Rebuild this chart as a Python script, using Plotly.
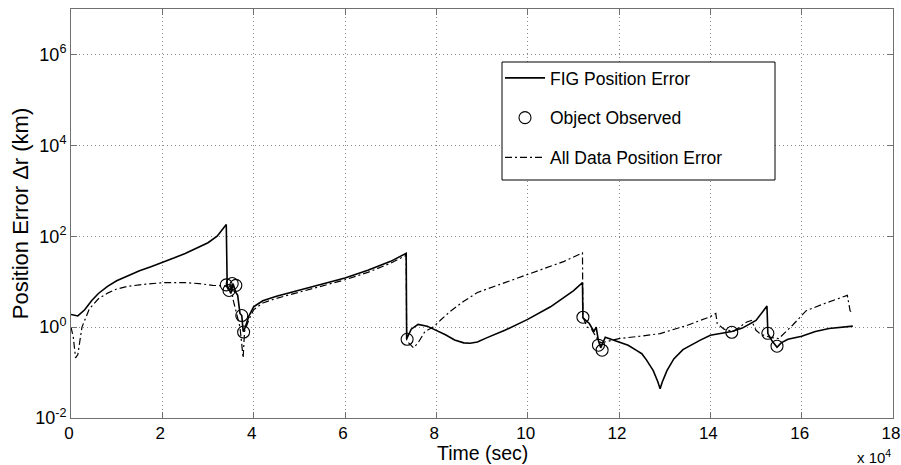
import plotly.graph_objects as go

# ---- data (time in 1e4 s, error in km) ----
fig_t = [0, 0.15, 0.3, 0.45, 0.6, 0.8, 1.0, 1.25, 1.5, 1.75, 2.0, 2.25, 2.5, 2.75, 3.0, 3.2, 3.4,
         3.42, 3.45, 3.5, 3.55, 3.6, 3.65, 3.7, 3.74, 3.77, 3.8, 3.85, 3.9, 4.0, 4.2, 4.5,
         5.0, 5.5, 6.0, 6.5, 7.0, 7.34, 7.35, 7.45, 7.6, 7.8, 8.0, 8.2, 8.4, 8.6, 8.74,
         8.9, 9.1, 9.5, 10.0, 10.5, 11.0, 11.2, 11.21, 11.35, 11.45, 11.5, 11.55, 11.6,
         11.7, 11.8, 11.95, 12.2, 12.4, 12.5, 12.6, 12.75, 12.85, 12.9, 12.95, 13.05,
         13.2, 13.4, 13.77, 14.0, 14.47, 14.7, 15.0, 15.24, 15.26, 15.35, 15.46, 15.55,
         15.7, 16.0, 16.3, 16.6, 17.12]
fig_v = [1.9, 1.76, 2.4, 3.8, 5.5, 7.9, 10.5, 13.8, 17.4, 21.4, 26.3, 33, 41.7, 53.7, 72, 100, 182,
         8.5, 7.4, 5.5, 9.0, 6.0, 5.0, 2.0, 1.8, 0.8, 0.9, 1.26, 1.8, 2.8, 3.8, 4.8,
         6.6, 8.9, 12, 17.8, 28, 42, 0.55, 0.9, 1.15, 1.05, 0.85, 0.68, 0.52, 0.45, 0.44,
         0.47, 0.58, 0.85, 1.48, 2.8, 6.3, 9.5, 1.6, 1.2, 0.8, 1.0, 0.5, 0.35,
         0.6, 0.55, 0.5, 0.4, 0.3, 0.26, 0.19, 0.11, 0.063, 0.044, 0.063, 0.11,
         0.2, 0.32, 0.51, 0.66, 0.8, 0.95, 1.4, 2.9, 0.72, 0.5, 0.36, 0.45,
         0.54, 0.63, 0.8, 0.93, 1.05]

all_t = [0, 0.05, 0.1, 0.15, 0.24, 0.4, 0.6, 0.8, 1.0, 1.25, 1.5, 2.0, 2.5, 2.8, 3.1, 3.4,
         3.45, 3.5, 3.55, 3.6, 3.7, 3.77, 3.8, 3.85, 3.9, 4.0, 4.2, 4.5, 5.0, 5.5, 6.0,
         6.5, 7.0, 7.34, 7.35, 7.5, 7.6, 7.75, 7.93, 8.1, 8.3, 8.6, 8.9, 9.5, 10.27,
         10.8, 11.2, 11.21, 11.3, 11.4, 11.5, 11.6, 11.8, 12.0, 12.46, 12.9, 13.5, 14.0,
         14.12, 14.15, 14.3, 14.5, 14.8, 14.9, 15.0, 15.1, 15.3, 15.5, 15.8, 16.1, 16.5,
         17.0, 17.06, 17.1]
all_v = [1.0, 0.6, 0.21, 0.25, 1.0, 2.5, 4.2, 5.6, 6.9, 7.9, 8.5, 9.5, 9.5, 9.1, 8.3, 8.0,
         6.5, 9.0, 4.0, 2.6, 1.0, 0.21, 0.8, 1.1, 1.5, 2.4, 3.4, 4.3, 5.9, 8.0, 11,
         16, 25.5, 38, 0.5, 0.35, 0.45, 0.8, 1.0, 1.45, 2.2, 3.7, 5.8, 9.5, 17.8,
         28, 43, 1.7, 1.0, 0.9, 0.6, 0.45, 0.5, 0.56, 0.63, 0.72, 1.1, 1.7,
         2.0, 1.2, 0.9, 0.8, 1.3, 1.4, 0.85, 0.7, 0.6, 0.56, 1.1, 2.3, 3.3,
         5.0, 2.3, 2.1]

obs_t = [3.40, 3.46, 3.53, 3.61, 3.74, 3.78, 7.36, 11.21, 11.55, 11.63, 14.47, 15.26, 15.46]
obs_v = [8.5, 6.4, 9.1, 8.3, 1.8, 0.78, 0.54, 1.65, 0.4, 0.31, 0.77, 0.73, 0.38]

x_tickvals = [0, 2, 4, 6, 8, 10, 12, 14, 16, 18]
x_ticktext = ["0", "2", "4", "6", "8", "10", "12", "14", "16", "18"]
y_tickvals = [1e-2, 1e0, 1e2, 1e4, 1e6]
y_ticktext = ["10<sup>-2</sup>", "10<sup>0</sup>", "10<sup>2</sup>", "10<sup>4</sup>", "10<sup>6</sup>"]
X_SCALE = 1e4

FONT = "Arial, Liberation Sans, sans-serif"
AXC = "#707070"
GRIDC = "#8a8a8a"

fig = go.Figure()
fig.add_trace(go.Scatter(x=[t * X_SCALE for t in fig_t], y=fig_v, mode="lines",
                         name="FIG Position Error",
                         line=dict(color="black", width=1.6), legendgroup="a"))
fig.add_trace(go.Scatter(x=[t * X_SCALE for t in obs_t], y=obs_v, mode="markers",
                         name="Object Observed",
                         marker=dict(symbol="circle-open", size=12, color="black",
                                     line=dict(width=1.1, color="black")), legendgroup="b"))
fig.add_trace(go.Scatter(x=[t * X_SCALE for t in all_t], y=all_v, mode="lines",
                         name="All Data Position Error",
                         line=dict(color="black", width=1.2, dash="7px,3px,2px,3px"),
                         legendgroup="c"))

W, H = 901, 465
L, R, T, B = 71, 8, 9, 47
pw, ph = W - L - R, H - T - B


def px_x(px):
    return (px - L) / pw


def px_y(py):
    return (H - B - py) / ph


fig.add_shape(type="rect", xref="paper", yref="paper",
              x0=px_x(502), x1=px_x(775), y0=px_y(180), y1=px_y(62),
              line=dict(color="black", width=1), fillcolor="white", layer="above")

fig.update_layout(
    width=W, height=H,
    margin=dict(l=L, r=R, t=T, b=B, autoexpand=False),
    paper_bgcolor="white", plot_bgcolor="white",
    font=dict(family=FONT, color="black", size=18),
    showlegend=True,
    legend=dict(x=px_x(500), y=px_y(60), xanchor="left", yanchor="top",
                bgcolor="rgba(0,0,0,0)", borderwidth=0,
                font=dict(size=17.5, family=FONT),
                traceorder="grouped", tracegroupgap=14, itemwidth=40),
    xaxis=dict(type="linear", range=[0, 18 * X_SCALE],
               tickvals=[v * X_SCALE for v in x_tickvals], ticktext=x_ticktext,
               showgrid=True, gridcolor=GRIDC, griddash="1px,3px", gridwidth=1,
               showline=True, linecolor=AXC, linewidth=1, mirror="ticks",
               ticks="inside", ticklen=6, tickcolor=AXC, zeroline=False,
               tickfont=dict(size=17), ticklabeloverflow="allow", ticklabelshift=-2),
    yaxis=dict(type="log", range=[-2, 7], tickvals=y_tickvals, ticktext=y_ticktext,
               showgrid=True, gridcolor=GRIDC, griddash="1px,3px", gridwidth=1,
               showline=True, linecolor=AXC, linewidth=1, mirror="ticks",
               ticks="inside", ticklen=6, tickcolor=AXC, zeroline=False,
               tickfont=dict(size=18), ticklabeloverflow="allow",
               title=dict(text="Position Error \u0394r (km)", font=dict(size=22), standoff=0)),
    annotations=[
        dict(text="Time (sec)", xref="paper", yref="paper",
             x=0.5, y=px_y(453), xanchor="center", yanchor="middle",
             showarrow=False, font=dict(size=19.5)),
        dict(text="x 10<sup>4</sup>", xref="paper", yref="paper",
             x=1.0, y=px_y(456), xanchor="right", yanchor="middle",
             showarrow=False, font=dict(size=15)),
    ],
)

fig.write_html("out.html")
